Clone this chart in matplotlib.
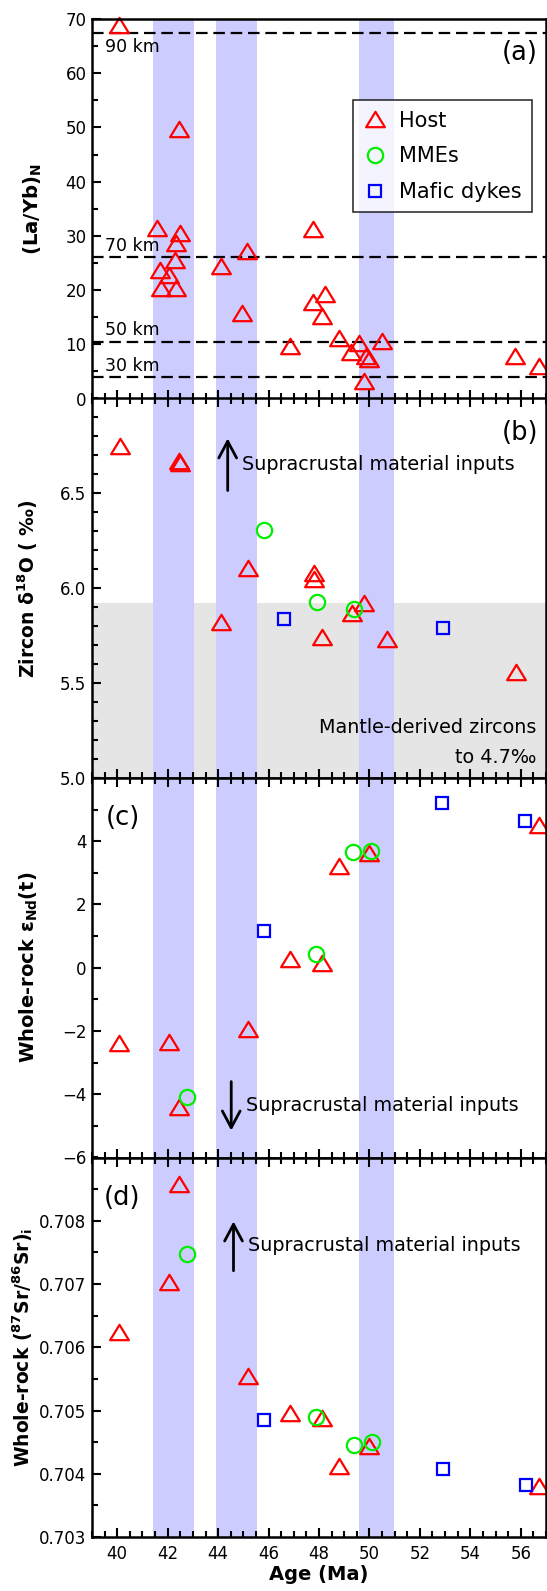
import matplotlib
matplotlib.use('Agg')
import matplotlib.pyplot as plt
from matplotlib.path import Path
from matplotlib.ticker import MultipleLocator, FixedLocator, FormatStrFormatter

plt.rcParams['font.family'] = ['DejaVu Sans']

# ---------------- data ----------------
bands = [(41.4, 43.05), (43.9, 45.55), (49.6, 50.97)]

# depth reference lines in panel (a)
depth_vals = [67.4, 26.1, 10.4, 3.9]
depth_labels = ['90 km', '70 km', '50 km', '30 km']
depth_label_y = [64.9, 28.2, 12.6, 6.0]

# (a) (La/Yb)N - host only
a_host_age = [40.08, 42.44, 41.58, 42.47, 42.33, 42.28, 41.71, 42.07, 41.75, 42.33,
              44.13, 45.14, 44.93, 47.77, 47.77, 48.22, 48.11, 46.87, 48.81, 49.58,
              49.27, 49.87, 50.0, 50.5, 49.8, 55.79, 56.73]
a_host_val = [68.9, 49.8, 31.5, 30.6, 28.6, 25.5, 23.7, 22.8, 20.3, 20.3,
              24.4, 27.2, 15.8, 31.2, 17.8, 19.2, 15.3, 9.66, 11.08, 10.28,
              8.55, 7.82, 7.2, 10.65, 3.14, 7.9, 6.0]

# (b) zircon d18O
b_host_age = [40.12, 42.45, 42.5, 45.17, 47.8, 47.8, 44.13, 48.11, 49.29, 49.8, 50.71, 55.82]
b_host_val = [6.75, 6.67, 6.66, 6.105, 6.08, 6.05, 5.82, 5.745, 5.87, 5.92, 5.73, 5.556]
b_mme_age = [45.80, 47.93, 49.38]
b_mme_val = [6.306, 5.928, 5.892]
b_dyke_age = [46.62, 52.93]
b_dyke_val = [5.837, 5.788]
mantle_zircon_range = (5.0, 5.92)

# (c) whole-rock eNd(t)
c_host_age = [40.06, 42.05, 42.44, 45.17, 46.84, 48.11, 48.80, 49.98, 56.73]
c_host_val = [-2.38, -2.36, -4.40, -1.95, 0.275, 0.14, 3.22, 3.63, 4.51]
c_mme_age = [42.76, 49.36, 50.05, 47.88]
c_mme_val = [-4.10, 3.67, 3.68, 0.42]
c_dyke_age = [45.80, 52.88, 56.17]
c_dyke_val = [1.15, 5.21, 4.63]

# (d) whole-rock (87Sr/86Sr)i
d_host_age = [40.06, 42.05, 42.44, 45.17, 46.84, 48.11, 48.80, 49.98, 56.73]
d_host_val = [0.706235, 0.707025, 0.708574, 0.705545, 0.704955, 0.704886, 0.704117, 0.704433, 0.703806]
d_mme_age = [42.76, 47.88, 49.38, 50.09]
d_mme_val = [0.707468, 0.704897, 0.704459, 0.704502]
d_dyke_age = [45.80, 52.91, 56.20]
d_dyke_val = [0.704844, 0.704080, 0.703822]

x_ticks = [40, 42, 44, 46, 48, 50, 52, 54, 56]

# ---------------- figure ----------------
fig = plt.figure(figsize=(5.47, 15.91), dpi=100)
left = 92 / 547
width = (546 - 92) / 547
top = 1 - 19 / 1591
bottom = 1 - 1537 / 1591
h = (top - bottom) / 4
axes = [fig.add_axes([left, top - (i + 1) * h, width, h]) for i in range(4)]

tri = Path([(-1, -0.82), (1, -0.82), (0, 0.82), (-1, -0.82)],
           [Path.MOVETO, Path.LINETO, Path.LINETO, Path.CLOSEPOLY])

host_kw = dict(linestyle='none', marker=tri, markersize=13.5, markerfacecolor='none',
               markeredgecolor='#ff0000', markeredgewidth=1.6, clip_on=False, zorder=4)
mme_kw = dict(linestyle='none', marker='o', markersize=11, markerfacecolor='none',
              markeredgecolor='#00ee00', markeredgewidth=1.6, clip_on=False, zorder=5)
dyke_kw = dict(linestyle='none', marker='s', markersize=8.5, markerfacecolor='none',
               markeredgecolor='#0000ff', markeredgewidth=1.6, clip_on=False, zorder=5)

arrow_props = dict(arrowstyle='->,head_length=0.6,head_width=0.32', lw=2, color='k',
                   mutation_scale=20, shrinkA=0, shrinkB=0)
note_fs = 13.8
panel_fs = 18.5
ylab_fs = 13.5

for i, ax in enumerate(axes):
    ax.set_xlim(39, 57)
    for (x0, x1) in bands:
        ax.axvspan(x0, x1, color='#ccccff', lw=0, zorder=1)
    ax.xaxis.set_major_locator(FixedLocator(x_ticks))
    ax.xaxis.set_minor_locator(MultipleLocator(0.5))
    ax.tick_params(which='both', direction='in', top=(i > 0), bottom=True,
                   left=True, right=False, width=1.5, labelsize=12)
    ax.tick_params(which='major', length=6.5)
    ax.tick_params(which='minor', length=4)
    ax.tick_params(axis='y', pad=4)
    ax.tick_params(axis='x', pad=6)
    for s in ax.spines.values():
        s.set_linewidth(1.8)
        s.set_zorder(6)
    if i < 3:
        ax.tick_params(labelbottom=False)

# ---- (a)
ax = axes[0]
ax.set_ylim(0, 70)
ax.yaxis.set_major_locator(FixedLocator([0, 10, 20, 30, 40, 50, 60, 70]))
ax.yaxis.set_minor_locator(MultipleLocator(5))
for v, lab, ly in zip(depth_vals, depth_labels, depth_label_y):
    ax.axhline(v, color='k', lw=1.6, dashes=(5.2, 2.6), zorder=3)
    ax.text(39.5, ly, lab, fontsize=12.5, ha='left', va='center', zorder=6)
hA, = ax.plot(a_host_age, a_host_val, label='Host', **host_kw)
hM, = ax.plot([], [], label='MMEs', **mme_kw)
hD, = ax.plot([], [], label='Mafic dykes', **dyke_kw)
leg = ax.legend(handles=[hA, hM, hD], loc='upper right', bbox_to_anchor=(0.969, 0.786),
                fontsize=15, frameon=True, fancybox=False, edgecolor='k',
                borderaxespad=0, borderpad=0.5, labelspacing=0.75, handlelength=1.1,
                handletextpad=0.6)
leg.get_frame().set_linewidth(1.2)
leg.set_zorder(7)
ax.text(0.982, 0.91, '(a)', transform=ax.transAxes, fontsize=panel_fs, ha='right', va='center')
ax.set_ylabel(r'(La/Yb)$_{\mathbf{N}}$', fontsize=ylab_fs + 0.7, fontweight='bold')
ax.yaxis.set_label_coords(-0.106, 0.5)

# ---- (b)
ax = axes[1]
ax.set_ylim(5.0, 7.0)
ax.yaxis.set_major_locator(FixedLocator([5.0, 5.5, 6.0, 6.5]))
ax.yaxis.set_minor_locator(MultipleLocator(0.1))
ax.yaxis.set_major_formatter(FormatStrFormatter('%.1f'))
ax.axhspan(mantle_zircon_range[0], mantle_zircon_range[1], color='#e5e5e5', lw=0, zorder=0)
ax.plot(b_host_age, b_host_val, **host_kw)
ax.plot(b_mme_age, b_mme_val, **mme_kw)
ax.plot(b_dyke_age, b_dyke_val, **dyke_kw)
ax.annotate('', xy=(44.38, 6.79), xytext=(44.38, 6.515), arrowprops=arrow_props, zorder=6)
ax.text(44.93, 6.652, 'Supracrustal material inputs', fontsize=note_fs, ha='left', va='center')
ax.text(0.982, 0.91, '(b)', transform=ax.transAxes, fontsize=panel_fs, ha='right', va='center')
ax.text(0.978, 5.265, 'Mantle-derived zircons', transform=ax.get_yaxis_transform(),
        fontsize=note_fs, ha='right', va='center')
ax.text(0.978, 5.11, 'to 4.7‰', transform=ax.get_yaxis_transform(),
        fontsize=note_fs, ha='right', va='center')
ax.set_ylabel(r'Zircon δ$^{\mathbf{18}}$O ( ‰)', fontsize=ylab_fs, fontweight='bold')
ax.yaxis.set_label_coords(-0.115, 0.5)

# ---- (c)
ax = axes[2]
ax.set_ylim(-6, 6)
ax.yaxis.set_major_locator(FixedLocator([-6, -4, -2, 0, 2, 4]))
ax.yaxis.set_minor_locator(MultipleLocator(1))
ax.plot(c_host_age, c_host_val, **host_kw)
ax.plot(c_mme_age, c_mme_val, **mme_kw)
ax.plot(c_dyke_age, c_dyke_val, **dyke_kw)
ax.annotate('', xy=(44.52, -5.15), xytext=(44.52, -3.6), arrowprops=arrow_props, zorder=6)
ax.text(45.11, -4.34, 'Supracrustal material inputs', fontsize=note_fs, ha='left', va='center')
ax.text(39.55, 4.73, '(c)', fontsize=panel_fs, ha='left', va='center')
ax.set_ylabel(r'Whole-rock ε$_{\mathbf{Nd}}$(t)', fontsize=ylab_fs + 0.5, fontweight='bold')
ax.yaxis.set_label_coords(-0.115, 0.5)

# ---- (d)
ax = axes[3]
ax.set_ylim(0.703, 0.709)
ax.yaxis.set_major_locator(FixedLocator([0.703, 0.704, 0.705, 0.706, 0.707, 0.708]))
ax.yaxis.set_minor_locator(MultipleLocator(0.0005))
ax.yaxis.set_major_formatter(FormatStrFormatter('%.3f'))
ax.plot(d_host_age, d_host_val, **host_kw)
ax.plot(d_mme_age, d_mme_val, **mme_kw)
ax.plot(d_dyke_age, d_dyke_val, **dyke_kw)
ax.annotate('', xy=(44.61, 0.70799), xytext=(44.61, 0.70721), arrowprops=arrow_props, zorder=6)
ax.text(45.17, 0.70761, 'Supracrustal material inputs', fontsize=note_fs, ha='left', va='center')
ax.text(39.47, 0.70836, '(d)', fontsize=panel_fs, ha='left', va='center')
ax.set_ylabel(r'Whole-rock ($^{\mathbf{87}}$Sr/$^{\mathbf{86}}$Sr)$_{\mathbf{i}}$',
              fontsize=ylab_fs, fontweight='bold')
ax.yaxis.set_label_coords(-0.126, 0.5)
ax.set_xlabel('Age (Ma)', fontsize=14, fontweight='bold', labelpad=1)

fig.savefig('out.png', dpi=100)
